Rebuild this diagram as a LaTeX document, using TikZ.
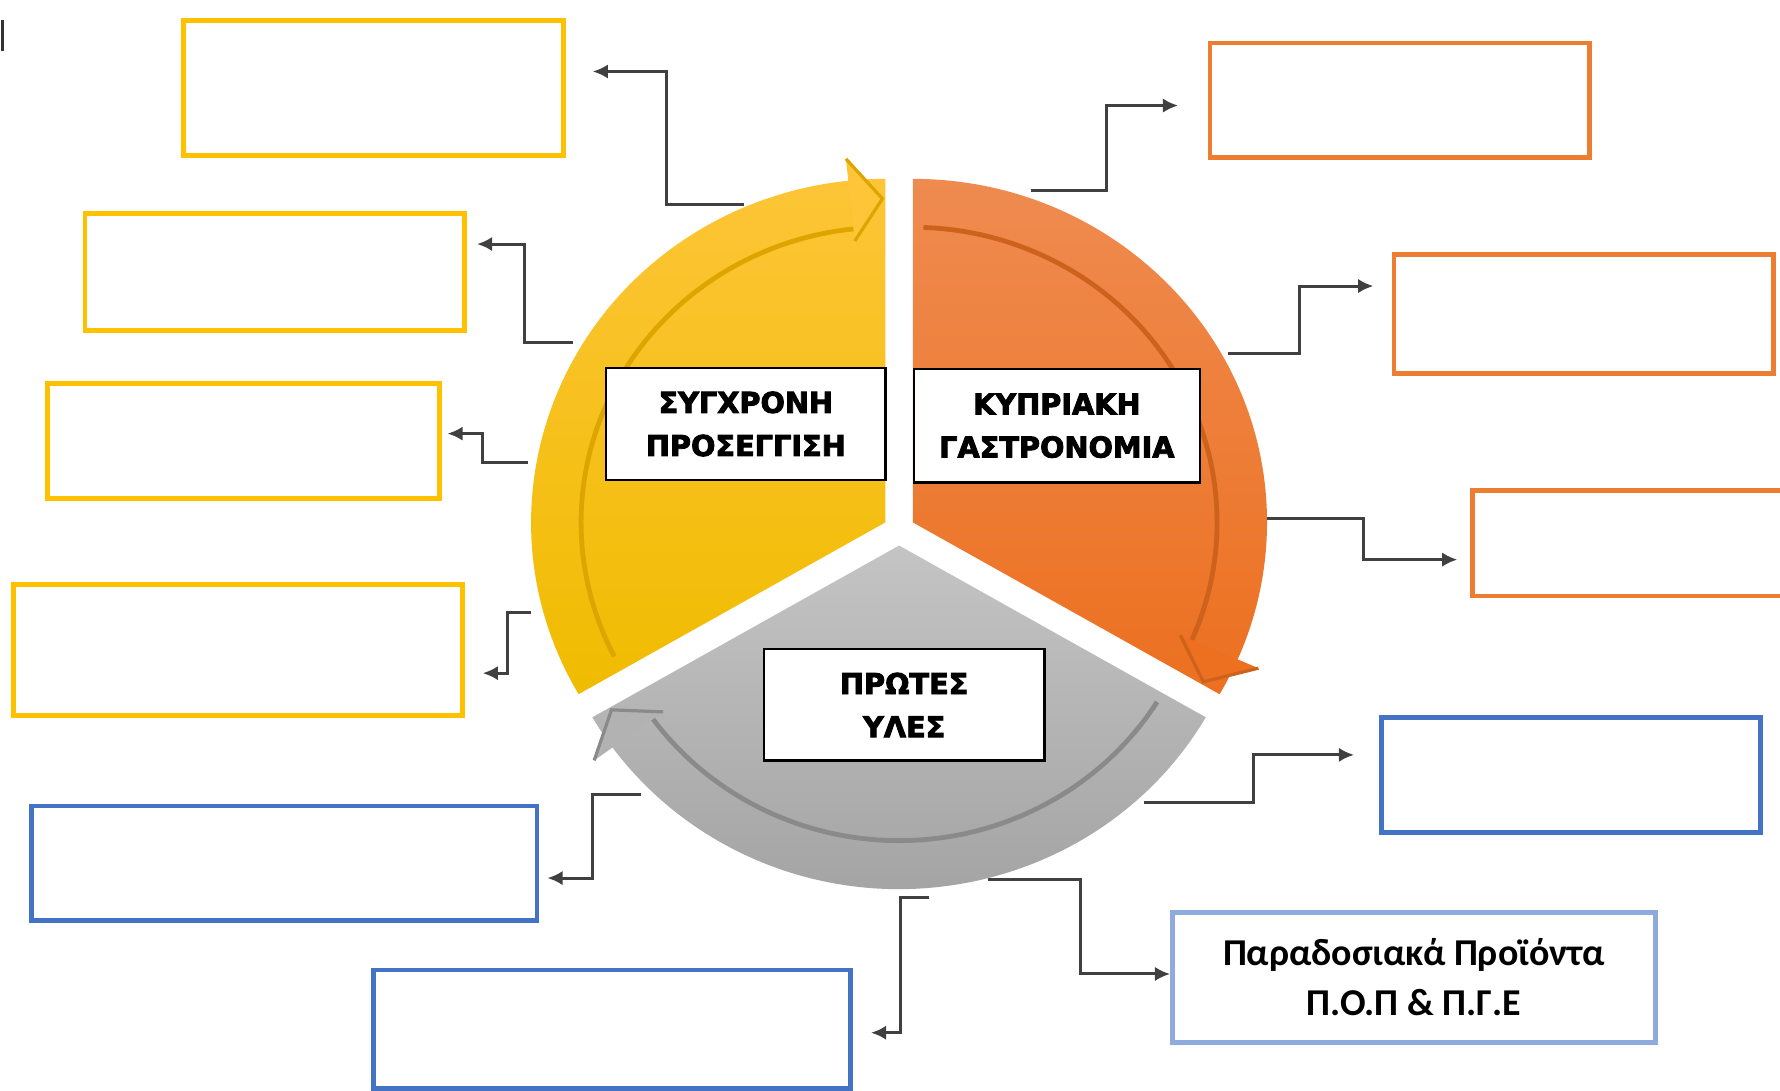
\documentclass[tikz,border=0pt]{standalone}
\usepackage{fontspec}
\setmainfont{Carlito}
\newfontfamily\capsfont{DejaVu Sans}[BoldFont={DejaVu Sans Bold}, BoldFeatures={FakeBold=3}]
\usetikzlibrary{arrows.meta}
\definecolor{goldline}{RGB}{255,192,0}
\definecolor{orangeline}{RGB}{237,125,49}
\definecolor{blueline}{RGB}{68,114,196}
\definecolor{paleblue}{RGB}{143,170,220}
\definecolor{goldtop}{RGB}{253,197,55}
\definecolor{goldbot}{RGB}{240,188,0}
\definecolor{goldrim}{RGB}{222,165,0}
\definecolor{ortop}{RGB}{239,139,80}
\definecolor{orbot}{RGB}{236,112,32}
\definecolor{orrim}{RGB}{204,98,28}
\definecolor{greytop}{RGB}{196,196,196}
\definecolor{greybot}{RGB}{160,160,160}
\definecolor{greyrim}{RGB}{138,138,138}
\begin{document}
\begin{tikzpicture}[x=0.01cm, y=0.01cm, line width=0.6pt,
  field/.style={draw=#1, line width=1.2pt, fill=white},
  tag/.style={draw, fill=white, line width=0.6pt, align=center, font=\capsfont\bfseries\fontsize{7.2}{10.8}\selectfont},
  link/.style={draw=black!75, line width=0.75pt, -{Latex[length=3.8pt,width=3.6pt]}},
  rim/.style={draw=#1, line width=1.2pt}]
  \useasboundingbox (0,0) rectangle (1568,961);
  \clip (0,0) rectangle (1568,961);
  \fill[white] (0,0) rectangle (1568,961);
  \draw[black!80, line width=0.8pt] (2,943) -- (2,916);
  % wheel
  \begin{scope}[shift={(792,494)}, yscale=0.97]
    \begin{scope}[shift={(150:14)}]
      \shade[top color=goldtop, bottom color=goldbot] (0,0) -- (210:312) arc[start angle=210, end angle=90, radius=312] -- cycle;
      \draw[rim=goldrim] (207:268) arc[start angle=207, end angle=96, radius=268];
      \fill[goldtop] (96:257) -- (90.5:294) -- (96:332) -- cycle;
      \draw[goldrim, line width=0.8pt] (96:257) -- (90.5:294) -- (96:332);
    \end{scope}
    \begin{scope}[shift={(30:14)}]
      \shade[top color=ortop, bottom color=orbot] (0,0) -- (90:312) arc[start angle=90, end angle=-30, radius=312] -- cycle;
      \draw[rim=orrim] (88:268) arc[start angle=88, end angle=-23.5, radius=268];
      \fill[orbot] (-23.5:257) -- (-29.5:294) -- (-23.5:332) -- cycle;
      \draw[orrim, line width=0.8pt] (-23.5:257) -- (-29.5:294) -- (-23.5:332);
    \end{scope}
    \begin{scope}[shift={(270:14)}]
      \shade[top color=greytop, bottom color=greybot] (0,0) -- (-30:312) arc[start angle=-30, end angle=-150, radius=312] -- cycle;
      \draw[rim=greyrim] (-32:268) arc[start angle=-32, end angle=-144, radius=268];
      \fill[greytop!50!greybot] (-144:257) -- (-149.5:294) -- (-144:332) -- cycle;
      \draw[greyrim, line width=0.8pt] (-144:257) -- (-149.5:294) -- (-144:332);
    \end{scope}
  \end{scope}
  \node[tag, minimum width=2.46cm, minimum height=0.99cm] (modern) at (657,587.5) {ΣΥΓΧΡΟΝΗ\\ΠΡΟΣΕΓΓΙΣΗ};
  \node[tag, minimum width=2.52cm, minimum height=1.00cm] (cyprus) at (931,586) {ΚΥΠΡΙΑΚΗ\\ΓΑΣΤΡΟΝΟΜΙΑ};
  \node[tag, minimum width=2.47cm, minimum height=0.98cm] (raw) at (796.5,340) {ΠΡΩΤΕΣ\\ΥΛΕΣ};
  % empty fields
  \node[field=goldline, minimum width=3.34cm, minimum height=1.19cm] (y1) at (329,883.5) {};
  \node[field=goldline, minimum width=3.34cm, minimum height=1.03cm] (y2) at (242,721.5) {};
  \node[field=goldline, minimum width=3.45cm, minimum height=1.01cm] (y3) at (214.5,572.5) {};
  \node[field=goldline, minimum width=3.95cm, minimum height=1.15cm] (y4) at (209.5,388.5) {};
  \node[field=blueline, minimum width=4.45cm, minimum height=1.01cm] (b1) at (250.5,200.5) {};
  \node[field=blueline, minimum width=4.20cm, minimum height=1.045cm] (b2) at (539,54.25) {};
  \node[field=orangeline, minimum width=3.34cm, minimum height=1.01cm] (o1) at (1233,872.5) {};
  \node[field=orangeline, minimum width=3.34cm, minimum height=1.05cm] (o2) at (1395,684.5) {};
  \node[field=orangeline, minimum width=3.34cm, minimum height=0.93cm] (o3) at (1464,482.5) {};
  \node[field=blueline, minimum width=3.34cm, minimum height=1.01cm] (b3) at (1384,278.5) {};
  \node[field=paleblue, minimum width=4.25cm, minimum height=1.14cm, align=center,
    font=\bfseries\fontsize{9.5}{12.5}\selectfont] (b4) at (1245.5,100) {Παραδοσιακά Προϊόντα\\Π.Ο.Π \& Π.Γ.Ε};
  % connectors
  \coordinate (s1) at (655,781);
  \coordinate (s2) at (505,659);
  \coordinate (s3) at (465,554);
  \coordinate (s4) at (468,421);
  \coordinate (s5) at (565,261);
  \coordinate (s6) at (818,170);
  \coordinate (s7) at (870,186);
  \coordinate (s8) at (1008,254);
  \coordinate (s9) at (1116,504);
  \coordinate (s10) at (1082,650);
  \coordinate (s11) at (908,793);
  \draw[link] (s1) -- ++(-68,0) |- ([shift={(24,14.5)}]y1.east);
  \draw[link] (s2) -- ++(-43,0) |- ([shift={(9,24.5)}]y2.east);
  \draw[link] (s3) -- ++(-40,0) |- ([shift={(5,6.5)}]y3.east);
  \draw[link] (s4) -- ++(-21,0) |- ([shift={(16,-20.5)}]y4.east);
  \draw[link] (s5) -- ++(-43,0) |- ([shift={(7,-13)}]b1.east);
  \draw[link] (s6) -- ++(-25,0) |- ([shift={(16,-3)}]b2.east);
  \draw[link] (s7) -- ++(82,0) |- ([shift={(0,3)}]b4.west);
  \draw[link] (s8) -- ++(96,0) |- ([shift={(-22,17.5)}]b3.west);
  \draw[link] (s9) -- ++(85,0) |- ([shift={(-11,-14.5)}]o3.west);
  \draw[link] (s10) -- ++(63,0) |- ([shift={(-16,24.5)}]o2.west);
  \draw[link] (s11) -- ++(67,0) |- ([shift={(-26,-4.5)}]o1.west);
\end{tikzpicture}
\end{document}
